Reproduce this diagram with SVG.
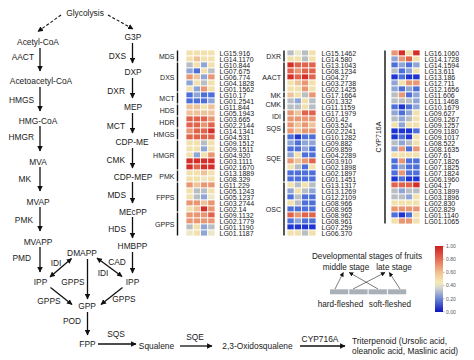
<svg xmlns="http://www.w3.org/2000/svg" width="474" height="360" viewBox="0 0 474 360">
<defs>
<marker id="ah" viewBox="0 0 10 10" refX="9" refY="5" markerWidth="5.5" markerHeight="5.5" markerUnits="userSpaceOnUse" orient="auto-start-reverse"><path d="M0,0 L10,5 L0,10 z" fill="#111"/></marker>
<marker id="ahs" viewBox="0 0 10 10" refX="9" refY="5" markerWidth="4.5" markerHeight="4.5" markerUnits="userSpaceOnUse" orient="auto"><path d="M0,0 L10,5 L0,10 z" fill="#111"/></marker>
<linearGradient id="cb" x1="0" y1="0" x2="0" y2="1">
<stop offset="0" stop-color="#cf1f1f"/><stop offset="0.2" stop-color="#e56a55"/><stop offset="0.4" stop-color="#f1c18f"/><stop offset="0.55" stop-color="#f5e9b5"/><stop offset="0.63" stop-color="#d6d8cc"/><stop offset="0.8" stop-color="#6d86d3"/><stop offset="1" stop-color="#0b13c0"/>
</linearGradient>
</defs>
<style>
text{font-family:"Liberation Sans",Arial,sans-serif;fill:#1a1a1a}
.p{font-size:8.4px;text-anchor:middle}
.e{font-size:8.4px;text-anchor:end}
.l{font-size:7px}
.g{font-size:7px;text-anchor:end}
.cbl{font-size:5px;fill:#555}
.ar{stroke:#111;stroke-width:1.3;fill:none;marker-end:url(#ah)}
.da{stroke:#111;stroke-width:1.1;fill:none;stroke-dasharray:3 2;marker-end:url(#ah)}
.db{stroke:#111;stroke-width:1.3;fill:none;marker-end:url(#ah);marker-start:url(#ah)}
.la{stroke:#222;stroke-width:0.6;fill:none;marker-end:url(#ahs)}
.bar{stroke:#111;stroke-width:1.4}
.hm rect{width:7.25px;height:6px;stroke:#fff;stroke-width:0.8px}
.R{fill:#d52d27}.r{fill:#e1634c}.O{fill:#e99672}.o{fill:#efc39a}.Y{fill:#f3e1ad}.y{fill:#ece7c6}.G{fill:#b9bec2}.b{fill:#8fa5d5}.B{fill:#4d6fd9}.D{fill:#1f35d2}
</style>

<g id="connectors">
<path class="da" d="M61,15 L38,31.5"/>
<path class="da" d="M108,15 L133,29"/>
<path class="ar" d="M40,48 L40,71"/>
<path class="ar" d="M40,87 L40,111"/>
<path class="ar" d="M40,126 L40,151"/>
<path class="ar" d="M40,167 L40,191"/>
<path class="ar" d="M40,207 L40,231"/>
<path class="ar" d="M40,247 L40,272"/>
<path class="ar" d="M132.5,43 L132.5,63"/>
<path class="ar" d="M132.5,78 L132.5,98"/>
<path class="ar" d="M132.5,113 L132.5,133"/>
<path class="ar" d="M132.5,148 L132.5,168"/>
<path class="ar" d="M132.5,182 L132.5,203"/>
<path class="ar" d="M132.5,217 L132.5,238"/>
<path class="ar" d="M132.5,252 L132.5,273"/>
<path class="db" d="M50,277 L71.5,258.5"/>
<path class="db" d="M97,258 L122,276.5"/>
<path class="ar" d="M87.5,259 L87.5,299"/>
<path class="ar" d="M50.5,287.5 L72,304.5"/>
<path class="ar" d="M122.5,287.5 L101,304.5"/>
<path class="ar" d="M87.5,312 L87.5,335"/>
<path class="ar" d="M98,344 L136,344"/>
<path class="ar" d="M180,346 L212,346"/>
<path class="ar" d="M300,346 L345,346"/>
<path class="la" d="M335,289 L343.3,272.5"/>
<path class="la" d="M378,289 L349.3,272.5"/>
<path class="la" d="M353,289 L385,272.5"/>
<path class="la" d="M400,289 L389.3,272.5"/>
</g>

<g id="pathway">
<text class="p" x="85" y="16">Glycolysis</text>
<text class="p" x="38" y="44.5">Acetyl-CoA</text>
<text class="p" x="41" y="84">Acetoacetyl-CoA</text>
<text class="p" x="38" y="124">HMG-CoA</text>
<text class="p" x="38" y="164.5">MVA</text>
<text class="p" x="38" y="204.5">MVAP</text>
<text class="p" x="38" y="244.5">MVAPP</text>
<text class="p" x="40.5" y="285">IPP</text>
<text class="e" x="34" y="60">AACT</text>
<text class="e" x="34" y="103">HMGS</text>
<text class="e" x="34" y="140">HMGR</text>
<text class="e" x="31" y="182">MK</text>
<text class="e" x="33" y="223">PMK</text>
<text class="e" x="31" y="261">PMD</text>
<text class="p" x="133" y="40">G3P</text>
<text class="p" x="133" y="75">DXP</text>
<text class="p" x="133" y="110">MEP</text>
<text class="p" x="132" y="145">CDP-ME</text>
<text class="p" x="133" y="179.5">CDP-MEP</text>
<text class="p" x="133" y="214.5">MEcPP</text>
<text class="p" x="132.5" y="249">HMBPP</text>
<text class="p" x="132.5" y="285">IPP</text>
<text class="e" x="126" y="59">DXS</text>
<text class="e" x="125" y="94">DXR</text>
<text class="e" x="125" y="128.5">MCT</text>
<text class="e" x="125" y="163">CMK</text>
<text class="e" x="126" y="197.5">MDS</text>
<text class="e" x="126" y="232">HDS</text>
<text class="p" x="117" y="265">CAD</text>
<text class="p" x="82" y="256">DMAPP</text>
<text class="p" x="56" y="266">IDI</text>
<text class="p" x="103" y="276">IDI</text>
<text class="p" x="73" y="285">GPPS</text>
<text class="p" x="49" y="304">GPPS</text>
<text class="p" x="124" y="301.5">GPPS</text>
<text class="p" x="87" y="309">GPP</text>
<text class="p" x="72" y="324">POD</text>
<text class="p" x="87.5" y="346.5">FPP</text>
<text class="p" x="116" y="336.5">SQS</text>
<text class="p" x="156.5" y="349">Squalene</text>
<text class="p" x="195" y="339.5">SQE</text>
<text class="p" x="257.5" y="349">2,3-Oxidosqualene</text>
<text class="p" x="320" y="341.5">CYP716A</text>
<text x="352" y="343.5" style="font-size:8.4px">Triterpenoid (Ursolic acid,</text>
<text x="352" y="354" style="font-size:8.4px">oleanolic acid, Maslinic acid)</text>
</g>

<g id="heatmap1">
<g class="hm" transform="translate(186,0)">
<rect x="0" y="50" class="Y"/><rect x="7.25" y="50" class="Y"/><rect x="14.5" y="50" class="Y"/><rect x="21.75" y="50" class="Y"/>
<rect x="0" y="56" class="Y"/><rect x="7.25" y="56" class="o"/><rect x="14.5" y="56" class="Y"/><rect x="21.75" y="56" class="Y"/>
<rect x="0" y="62" class="G"/><rect x="7.25" y="62" class="Y"/><rect x="14.5" y="62" class="b"/><rect x="21.75" y="62" class="Y"/>
<rect x="0" y="68" class="b"/><rect x="7.25" y="68" class="B"/><rect x="14.5" y="68" class="Y"/><rect x="21.75" y="68" class="G"/>
<rect x="0" y="74" class="O"/><rect x="7.25" y="74" class="o"/><rect x="14.5" y="74" class="b"/><rect x="21.75" y="74" class="O"/>
<rect x="0" y="80" class="b"/><rect x="7.25" y="80" class="Y"/><rect x="14.5" y="80" class="G"/><rect x="21.75" y="80" class="Y"/>
<rect x="0" y="86" class="Y"/><rect x="7.25" y="86" class="b"/><rect x="14.5" y="86" class="O"/><rect x="21.75" y="86" class="Y"/>
<rect x="0" y="92" class="B"/><rect x="7.25" y="92" class="b"/><rect x="14.5" y="92" class="B"/><rect x="21.75" y="92" class="B"/>
<rect x="0" y="98" class="B"/><rect x="7.25" y="98" class="B"/><rect x="14.5" y="98" class="B"/><rect x="21.75" y="98" class="b"/>
<rect x="0" y="104" class="o"/><rect x="7.25" y="104" class="o"/><rect x="14.5" y="104" class="Y"/><rect x="21.75" y="104" class="o"/>
<rect x="0" y="110" class="o"/><rect x="7.25" y="110" class="o"/><rect x="14.5" y="110" class="o"/><rect x="21.75" y="110" class="o"/>
<rect x="0" y="116" class="r"/><rect x="7.25" y="116" class="r"/><rect x="14.5" y="116" class="r"/><rect x="21.75" y="116" class="O"/>
<rect x="0" y="122" class="r"/><rect x="7.25" y="122" class="r"/><rect x="14.5" y="122" class="O"/><rect x="21.75" y="122" class="r"/>
<rect x="0" y="128" class="O"/><rect x="7.25" y="128" class="r"/><rect x="14.5" y="128" class="r"/><rect x="21.75" y="128" class="R"/>
<rect x="0" y="134" class="r"/><rect x="7.25" y="134" class="r"/><rect x="14.5" y="134" class="r"/><rect x="21.75" y="134" class="r"/>
<rect x="0" y="140" class="Y"/><rect x="7.25" y="140" class="Y"/><rect x="14.5" y="140" class="G"/><rect x="21.75" y="140" class="Y"/>
<rect x="0" y="146" class="Y"/><rect x="7.25" y="146" class="Y"/><rect x="14.5" y="146" class="b"/><rect x="21.75" y="146" class="Y"/>
<rect x="0" y="152" class="Y"/><rect x="7.25" y="152" class="b"/><rect x="14.5" y="152" class="Y"/><rect x="21.75" y="152" class="O"/>
<rect x="0" y="158" class="R"/><rect x="7.25" y="158" class="R"/><rect x="14.5" y="158" class="R"/><rect x="21.75" y="158" class="R"/>
<rect x="0" y="164" class="R"/><rect x="7.25" y="164" class="r"/><rect x="14.5" y="164" class="R"/><rect x="21.75" y="164" class="R"/>
<rect x="0" y="170" class="Y"/><rect x="7.25" y="170" class="Y"/><rect x="14.5" y="170" class="o"/><rect x="21.75" y="170" class="Y"/>
<rect x="0" y="176" class="Y"/><rect x="7.25" y="176" class="Y"/><rect x="14.5" y="176" class="y"/><rect x="21.75" y="176" class="Y"/>
<rect x="0" y="182" class="O"/><rect x="7.25" y="182" class="o"/><rect x="14.5" y="182" class="O"/><rect x="21.75" y="182" class="O"/>
<rect x="0" y="188" class="Y"/><rect x="7.25" y="188" class="G"/><rect x="14.5" y="188" class="G"/><rect x="21.75" y="188" class="Y"/>
<rect x="0" y="194" class="Y"/><rect x="7.25" y="194" class="G"/><rect x="14.5" y="194" class="b"/><rect x="21.75" y="194" class="y"/>
<rect x="0" y="200" class="O"/><rect x="7.25" y="200" class="O"/><rect x="14.5" y="200" class="o"/><rect x="21.75" y="200" class="O"/>
<rect x="0" y="206" class="Y"/><rect x="7.25" y="206" class="o"/><rect x="14.5" y="206" class="R"/><rect x="21.75" y="206" class="O"/>
<rect x="0" y="212" class="O"/><rect x="7.25" y="212" class="O"/><rect x="14.5" y="212" class="O"/><rect x="21.75" y="212" class="r"/>
<rect x="0" y="218" class="O"/><rect x="7.25" y="218" class="O"/><rect x="14.5" y="218" class="O"/><rect x="21.75" y="218" class="O"/>
<rect x="0" y="224" class="G"/><rect x="7.25" y="224" class="Y"/><rect x="14.5" y="224" class="b"/><rect x="21.75" y="224" class="G"/>
<rect x="0" y="230" class="y"/><rect x="7.25" y="230" class="Y"/><rect x="14.5" y="230" class="b"/><rect x="21.75" y="230" class="y"/>
</g>
<text class="l"><tspan x="219.5" y="56.3">LG15.916</tspan><tspan x="219.5" dy="6">LG14.1170</tspan><tspan x="219.5" dy="6">LG10.844</tspan><tspan x="219.5" dy="6">LG07.675</tspan><tspan x="219.5" dy="6">LG06.774</tspan><tspan x="219.5" dy="6">LG04.1828</tspan><tspan x="219.5" dy="6">LG01.1562</tspan><tspan x="219.5" dy="6">LG10.17</tspan><tspan x="219.5" dy="6">LG01.2541</tspan><tspan x="219.5" dy="6">LG11.844</tspan><tspan x="219.5" dy="6">LG05.1943</tspan><tspan x="219.5" dy="6">LG03.665</tspan><tspan x="219.5" dy="6">LG02.2144</tspan><tspan x="219.5" dy="6">LG14.1341</tspan><tspan x="219.5" dy="6">LG04.531</tspan><tspan x="219.5" dy="6">LG09.1512</tspan><tspan x="219.5" dy="6">LG09.1511</tspan><tspan x="219.5" dy="6">LG04.920</tspan><tspan x="219.5" dy="6">LG03.1111</tspan><tspan x="219.5" dy="6">LG02.1670</tspan><tspan x="219.5" dy="6">LG13.1889</tspan><tspan x="219.5" dy="6">LG08.329</tspan><tspan x="219.5" dy="6">LG11.229</tspan><tspan x="219.5" dy="6">LG05.1243</tspan><tspan x="219.5" dy="6">LG05.1237</tspan><tspan x="219.5" dy="6">LG03.2744</tspan><tspan x="219.5" dy="6">LG02.14</tspan><tspan x="219.5" dy="6">LG09.1132</tspan><tspan x="219.5" dy="6">LG02.1779</tspan><tspan x="219.5" dy="6">LG01.1190</tspan><tspan x="219.5" dy="6">LG01.1187</tspan></text>
<path class="bar" d="M177.5,50.5V61.5M177.5,62.5V91.5M177.5,92.5V103.5M177.5,104.5V115.5M177.5,116.5V127.5M177.5,128.5V139.5M177.5,140.5V169.5M177.5,170.5V181.5M177.5,182.5V211.5M177.5,212.5V235.5"/>
<text class="g" x="174.5" y="58.5">MDS</text>
<text class="g" x="174.5" y="79.5">DXS</text>
<text class="g" x="174.5" y="100.5">MCT</text>
<text class="g" x="174.5" y="112.5">HDS</text>
<text class="g" x="174.5" y="124.5">HDR</text>
<text class="g" x="174.5" y="136.5">HMGS</text>
<text class="g" x="174.5" y="157.5">HMGR</text>
<text class="g" x="174.5" y="178.5">PMK</text>
<text class="g" x="174.5" y="199.5">FPPS</text>
<text class="g" x="174.5" y="226.5">GPPS</text>
</g>

<g id="heatmap2">
<g class="hm" transform="translate(287,0)">
<rect x="0" y="50" class="G"/><rect x="7.25" y="50" class="y"/><rect x="14.5" y="50" class="G"/><rect x="21.75" y="50" class="Y"/>
<rect x="0" y="56" class="Y"/><rect x="7.25" y="56" class="Y"/><rect x="14.5" y="56" class="G"/><rect x="21.75" y="56" class="Y"/>
<rect x="0" y="62" class="R"/><rect x="7.25" y="62" class="r"/><rect x="14.5" y="62" class="r"/><rect x="21.75" y="62" class="r"/>
<rect x="0" y="68" class="r"/><rect x="7.25" y="68" class="O"/><rect x="14.5" y="68" class="r"/><rect x="21.75" y="68" class="r"/>
<rect x="0" y="74" class="R"/><rect x="7.25" y="74" class="r"/><rect x="14.5" y="74" class="R"/><rect x="21.75" y="74" class="r"/>
<rect x="0" y="80" class="Y"/><rect x="7.25" y="80" class="o"/><rect x="14.5" y="80" class="O"/><rect x="21.75" y="80" class="Y"/>
<rect x="0" y="86" class="Y"/><rect x="7.25" y="86" class="Y"/><rect x="14.5" y="86" class="O"/><rect x="21.75" y="86" class="Y"/>
<rect x="0" y="92" class="o"/><rect x="7.25" y="92" class="Y"/><rect x="14.5" y="92" class="G"/><rect x="21.75" y="92" class="O"/>
<rect x="0" y="98" class="G"/><rect x="7.25" y="98" class="b"/><rect x="14.5" y="98" class="Y"/><rect x="21.75" y="98" class="G"/>
<rect x="0" y="104" class="G"/><rect x="7.25" y="104" class="G"/><rect x="14.5" y="104" class="Y"/><rect x="21.75" y="104" class="G"/>
<rect x="0" y="110" class="O"/><rect x="7.25" y="110" class="o"/><rect x="14.5" y="110" class="r"/><rect x="21.75" y="110" class="r"/>
<rect x="0" y="116" class="O"/><rect x="7.25" y="116" class="O"/><rect x="14.5" y="116" class="O"/><rect x="21.75" y="116" class="O"/>
<rect x="0" y="122" class="O"/><rect x="7.25" y="122" class="o"/><rect x="14.5" y="122" class="O"/><rect x="21.75" y="122" class="o"/>
<rect x="0" y="128" class="O"/><rect x="7.25" y="128" class="o"/><rect x="14.5" y="128" class="O"/><rect x="21.75" y="128" class="O"/>
<rect x="0" y="134" class="B"/><rect x="7.25" y="134" class="D"/><rect x="14.5" y="134" class="B"/><rect x="21.75" y="134" class="B"/>
<rect x="0" y="140" class="b"/><rect x="7.25" y="140" class="B"/><rect x="14.5" y="140" class="b"/><rect x="21.75" y="140" class="b"/>
<rect x="0" y="146" class="B"/><rect x="7.25" y="146" class="B"/><rect x="14.5" y="146" class="b"/><rect x="21.75" y="146" class="B"/>
<rect x="0" y="152" class="b"/><rect x="7.25" y="152" class="Y"/><rect x="14.5" y="152" class="B"/><rect x="21.75" y="152" class="B"/>
<rect x="0" y="158" class="O"/><rect x="7.25" y="158" class="o"/><rect x="14.5" y="158" class="O"/><rect x="21.75" y="158" class="r"/>
<rect x="0" y="164" class="Y"/><rect x="7.25" y="164" class="G"/><rect x="14.5" y="164" class="B"/><rect x="21.75" y="164" class="Y"/>
<rect x="0" y="170" class="B"/><rect x="7.25" y="170" class="B"/><rect x="14.5" y="170" class="B"/><rect x="21.75" y="170" class="B"/>
<rect x="0" y="176" class="B"/><rect x="7.25" y="176" class="B"/><rect x="14.5" y="176" class="B"/><rect x="21.75" y="176" class="B"/>
<rect x="0" y="182" class="Y"/><rect x="7.25" y="182" class="G"/><rect x="14.5" y="182" class="Y"/><rect x="21.75" y="182" class="G"/>
<rect x="0" y="188" class="b"/><rect x="7.25" y="188" class="Y"/><rect x="14.5" y="188" class="G"/><rect x="21.75" y="188" class="b"/>
<rect x="0" y="194" class="B"/><rect x="7.25" y="194" class="G"/><rect x="14.5" y="194" class="B"/><rect x="21.75" y="194" class="B"/>
<rect x="0" y="200" class="Y"/><rect x="7.25" y="200" class="G"/><rect x="14.5" y="200" class="B"/><rect x="21.75" y="200" class="B"/>
<rect x="0" y="206" class="B"/><rect x="7.25" y="206" class="B"/><rect x="14.5" y="206" class="B"/><rect x="21.75" y="206" class="B"/>
<rect x="0" y="212" class="r"/><rect x="7.25" y="212" class="O"/><rect x="14.5" y="212" class="r"/><rect x="21.75" y="212" class="r"/>
<rect x="0" y="218" class="B"/><rect x="7.25" y="218" class="b"/><rect x="14.5" y="218" class="B"/><rect x="21.75" y="218" class="B"/>
<rect x="0" y="224" class="D"/><rect x="7.25" y="224" class="D"/><rect x="14.5" y="224" class="D"/><rect x="21.75" y="224" class="D"/>
<rect x="0" y="230" class="Y"/><rect x="7.25" y="230" class="Y"/><rect x="14.5" y="230" class="G"/><rect x="21.75" y="230" class="Y"/>
</g>
<text class="l"><tspan x="321.5" y="56.3">LG15.1462</tspan><tspan x="321.5" dy="6">LG14.580</tspan><tspan x="321.5" dy="6">LG13.1043</tspan><tspan x="321.5" dy="6">LG08.1234</tspan><tspan x="321.5" dy="6">LG04.27</tspan><tspan x="321.5" dy="6">LG03.2738</tspan><tspan x="321.5" dy="6">LG02.1425</tspan><tspan x="321.5" dy="6">LG17.1664</tspan><tspan x="321.5" dy="6">LG01.332</tspan><tspan x="321.5" dy="6">LG11.1159</tspan><tspan x="321.5" dy="6">LG17.1979</tspan><tspan x="321.5" dy="6">LG01.42</tspan><tspan x="321.5" dy="6">LG03.524</tspan><tspan x="321.5" dy="6">LG02.2241</tspan><tspan x="321.5" dy="6">LG10.1282</tspan><tspan x="321.5" dy="6">LG09.882</tspan><tspan x="321.5" dy="6">LG09.859</tspan><tspan x="321.5" dy="6">LG04.2289</tspan><tspan x="321.5" dy="6">LG03.910</tspan><tspan x="321.5" dy="6">LG02.1898</tspan><tspan x="321.5" dy="6">LG02.1897</tspan><tspan x="321.5" dy="6">LG01.1451</tspan><tspan x="321.5" dy="6">LG13.1317</tspan><tspan x="321.5" dy="6">LG13.1269</tspan><tspan x="321.5" dy="6">LG12.2109</tspan><tspan x="321.5" dy="6">LG08.966</tspan><tspan x="321.5" dy="6">LG08.965</tspan><tspan x="321.5" dy="6">LG08.962</tspan><tspan x="321.5" dy="6">LG08.961</tspan><tspan x="321.5" dy="6">LG07.259</tspan><tspan x="321.5" dy="6">LG06.370</tspan></text>
<path class="bar" d="M284,50.5V61.5M284,62.5V91.5M284,92.5V97.5M284,98.5V109.5M284,110.5V121.5M284,122.5V133.5M284,134.5V181.5M284,182.5V235.5"/>
<text class="g" x="281" y="58.5">DXR</text>
<text class="g" x="281" y="79.5">AACT</text>
<text class="g" x="281" y="97.5">MK</text>
<text class="g" x="281" y="106.5">CMK</text>
<text class="g" x="281" y="118.5">IDI</text>
<text class="g" x="281" y="130.5">SQS</text>
<text class="g" x="281" y="160.5">SQE</text>
<text class="g" x="281" y="211.5">OSC</text>
</g>

<g id="heatmap3">
<g class="hm" transform="translate(391,0)">
<rect x="0" y="50" class="O"/><rect x="7.25" y="50" class="R"/><rect x="14.5" y="50" class="Y"/><rect x="21.75" y="50" class="R"/>
<rect x="0" y="56" class="b"/><rect x="7.25" y="56" class="O"/><rect x="14.5" y="56" class="r"/><rect x="21.75" y="56" class="Y"/>
<rect x="0" y="62" class="B"/><rect x="7.25" y="62" class="b"/><rect x="14.5" y="62" class="B"/><rect x="21.75" y="62" class="b"/>
<rect x="0" y="68" class="G"/><rect x="7.25" y="68" class="B"/><rect x="14.5" y="68" class="b"/><rect x="21.75" y="68" class="Y"/>
<rect x="0" y="74" class="D"/><rect x="7.25" y="74" class="B"/><rect x="14.5" y="74" class="D"/><rect x="21.75" y="74" class="D"/>
<rect x="0" y="80" class="b"/><rect x="7.25" y="80" class="Y"/><rect x="14.5" y="80" class="O"/><rect x="21.75" y="80" class="O"/>
<rect x="0" y="86" class="b"/><rect x="7.25" y="86" class="B"/><rect x="14.5" y="86" class="b"/><rect x="21.75" y="86" class="B"/>
<rect x="0" y="92" class="G"/><rect x="7.25" y="92" class="O"/><rect x="14.5" y="92" class="B"/><rect x="21.75" y="92" class="b"/>
<rect x="0" y="98" class="G"/><rect x="7.25" y="98" class="G"/><rect x="14.5" y="98" class="G"/><rect x="21.75" y="98" class="b"/>
<rect x="0" y="104" class="B"/><rect x="7.25" y="104" class="D"/><rect x="14.5" y="104" class="B"/><rect x="21.75" y="104" class="b"/>
<rect x="0" y="110" class="b"/><rect x="7.25" y="110" class="B"/><rect x="14.5" y="110" class="b"/><rect x="21.75" y="110" class="Y"/>
<rect x="0" y="116" class="G"/><rect x="7.25" y="116" class="b"/><rect x="14.5" y="116" class="G"/><rect x="21.75" y="116" class="Y"/>
<rect x="0" y="122" class="Y"/><rect x="7.25" y="122" class="b"/><rect x="14.5" y="122" class="Y"/><rect x="21.75" y="122" class="Y"/>
<rect x="0" y="128" class="D"/><rect x="7.25" y="128" class="D"/><rect x="14.5" y="128" class="D"/><rect x="21.75" y="128" class="B"/>
<rect x="0" y="134" class="D"/><rect x="7.25" y="134" class="B"/><rect x="14.5" y="134" class="D"/><rect x="21.75" y="134" class="Y"/>
<rect x="0" y="140" class="G"/><rect x="7.25" y="140" class="b"/><rect x="14.5" y="140" class="G"/><rect x="21.75" y="140" class="Y"/>
<rect x="0" y="146" class="b"/><rect x="7.25" y="146" class="O"/><rect x="14.5" y="146" class="B"/><rect x="21.75" y="146" class="O"/>
<rect x="0" y="152" class="Y"/><rect x="7.25" y="152" class="Y"/><rect x="14.5" y="152" class="Y"/><rect x="21.75" y="152" class="Y"/>
<rect x="0" y="158" class="B"/><rect x="7.25" y="158" class="O"/><rect x="14.5" y="158" class="B"/><rect x="21.75" y="158" class="B"/>
<rect x="0" y="164" class="B"/><rect x="7.25" y="164" class="b"/><rect x="14.5" y="164" class="B"/><rect x="21.75" y="164" class="B"/>
<rect x="0" y="170" class="B"/><rect x="7.25" y="170" class="O"/><rect x="14.5" y="170" class="B"/><rect x="21.75" y="170" class="B"/>
<rect x="0" y="176" class="D"/><rect x="7.25" y="176" class="B"/><rect x="14.5" y="176" class="D"/><rect x="21.75" y="176" class="D"/>
<rect x="0" y="182" class="r"/><rect x="7.25" y="182" class="r"/><rect x="14.5" y="182" class="r"/><rect x="21.75" y="182" class="R"/>
<rect x="0" y="188" class="G"/><rect x="7.25" y="188" class="b"/><rect x="14.5" y="188" class="G"/><rect x="21.75" y="188" class="G"/>
<rect x="0" y="194" class="G"/><rect x="7.25" y="194" class="G"/><rect x="14.5" y="194" class="b"/><rect x="21.75" y="194" class="Y"/>
<rect x="0" y="200" class="Y"/><rect x="7.25" y="200" class="Y"/><rect x="14.5" y="200" class="Y"/><rect x="21.75" y="200" class="Y"/>
<rect x="0" y="206" class="O"/><rect x="7.25" y="206" class="O"/><rect x="14.5" y="206" class="O"/><rect x="21.75" y="206" class="O"/>
<rect x="0" y="212" class="B"/><rect x="7.25" y="212" class="D"/><rect x="14.5" y="212" class="B"/><rect x="21.75" y="212" class="Y"/>
<rect x="0" y="218" class="Y"/><rect x="7.25" y="218" class="O"/><rect x="14.5" y="218" class="O"/><rect x="21.75" y="218" class="Y"/>
</g>
<text class="l"><tspan x="424.5" y="56.3">LG16.1060</tspan><tspan x="424.5" dy="6">LG14.1728</tspan><tspan x="424.5" dy="6">LG14.1594</tspan><tspan x="424.5" dy="6">LG13.611</tspan><tspan x="424.5" dy="6">LG13.186</tspan><tspan x="424.5" dy="6">LG12.711</tspan><tspan x="424.5" dy="6">LG12.1656</tspan><tspan x="424.5" dy="6">LG11.606</tspan><tspan x="424.5" dy="6">LG11.1468</tspan><tspan x="424.5" dy="6">LG10.1679</tspan><tspan x="424.5" dy="6">LG09.627</tspan><tspan x="424.5" dy="6">LG09.1267</tspan><tspan x="424.5" dy="6">LG09.1257</tspan><tspan x="424.5" dy="6">LG09.1180</tspan><tspan x="424.5" dy="6">LG09.1017</tspan><tspan x="424.5" dy="6">LG08.522</tspan><tspan x="424.5" dy="6">LG08.1635</tspan><tspan x="424.5" dy="6">LG07.61</tspan><tspan x="424.5" dy="6">LG07.1826</tspan><tspan x="424.5" dy="6">LG07.1825</tspan><tspan x="424.5" dy="6">LG07.1824</tspan><tspan x="424.5" dy="6">LG06.1960</tspan><tspan x="424.5" dy="6">LG04.17</tspan><tspan x="424.5" dy="6">LG03.1899</tspan><tspan x="424.5" dy="6">LG03.1896</tspan><tspan x="424.5" dy="6">LG02.830</tspan><tspan x="424.5" dy="6">LG02.829</tspan><tspan x="424.5" dy="6">LG01.1140</tspan><tspan x="424.5" dy="6">LG01.1065</tspan></text>
<path class="bar" d="M385,50.5V223.5"/>
<text x="0" y="0" transform="translate(381,137) rotate(-90)" style="font-size:7px;text-anchor:middle">CYP716A</text>
</g>

<g id="legend">
<text class="p" x="367" y="259" style="font-size:8.2px">Developmental stages of fruits</text>
<text class="p" x="346" y="269.5" style="font-size:8.2px">middle stage</text>
<text class="p" x="394" y="269.5" style="font-size:8.2px">late stage</text>
<rect x="330" y="289.3" width="18.3" height="5" fill="#a9b1b8"/>
<rect x="349.3" y="289.3" width="18.3" height="5" fill="#a9b1b8"/>
<rect x="368.6" y="289.3" width="18.3" height="5" fill="#a9b1b8"/>
<rect x="387.9" y="289.3" width="18.3" height="5" fill="#a9b1b8"/>
<text class="p" x="340.5" y="306.5" style="font-size:8.2px">hard-fleshed</text>
<text class="p" x="390" y="306.5" style="font-size:8.2px">soft-fleshed</text>
</g>

<g id="colorbar">
<rect x="435" y="246" width="8" height="66" fill="url(#cb)"/>
<path d="M443,246.3h1.5M443,259.2h1.5M443,272.4h1.5M443,285.6h1.5M443,298.8h1.5M443,311.7h1.5" stroke="#777" stroke-width="0.5"/>
<text class="cbl" x="446" y="247.8">1.00</text>
<text class="cbl" x="446" y="261">0.80</text>
<text class="cbl" x="446" y="274.2">0.60</text>
<text class="cbl" x="446" y="287.4">0.40</text>
<text class="cbl" x="446" y="300.6">0.20</text>
<text class="cbl" x="446" y="313.5">0.00</text>
</g>
</svg>
